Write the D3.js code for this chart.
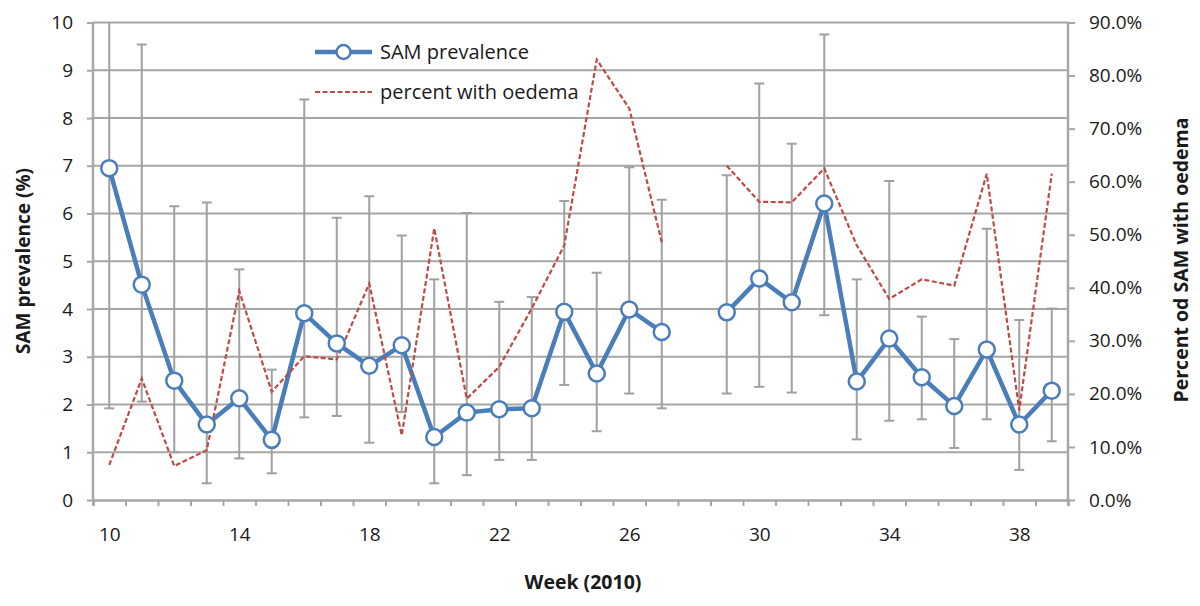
<!DOCTYPE html>
<html>
<head>
<meta charset="utf-8">
<script src="https://cdn.jsdelivr.net/npm/d3@7"></script>
<style>
  html, body { margin: 0; padding: 0; background: #fff; }
  svg { display: block; font-family: "Open Sans", "Noto Sans", sans-serif; }
</style>
</head>
<body>
<svg id="chart" width="1200" height="606"></svg>
<script>
// ---- data ----
const weeks = d3.range(10, 40);
const samPrevalence = [6.95, 4.51, 2.50, 1.58, 2.13, 1.26, 3.91, 3.28, 2.81, 3.24,
                       1.32, 1.83, 1.90, 1.92, 3.94, 2.65, 3.99, 3.52, null, 3.93,
                       4.64, 4.14, 6.21, 2.48, 3.38, 2.57, 1.97, 3.15, 1.58, 2.29];
const ciUpper = [10.5, 9.54, 6.15, 6.23, 4.83, 2.73, 8.39, 5.91, 6.36, 5.54,
                 4.62, 6.01, 4.15, 4.25, 6.26, 4.76, 6.97, 6.29, null, 6.80,
                 8.72, 7.46, 9.75, 4.62, 6.68, 3.84, 3.37, 5.68, 3.77, 4.01];
const ciLower = [1.92, 2.06, 1.00, 0.35, 0.87, 0.56, 1.73, 1.76, 1.20, 1.84,
                 0.35, 0.52, 0.84, 0.84, 2.41, 1.44, 2.23, 1.92, null, 2.23,
                 2.37, 2.25, 3.87, 1.27, 1.66, 1.69, 1.09, 1.69, 0.63, 1.23];
const pctOedema = [0.066, 0.229, 0.064, 0.094, 0.394, 0.204, 0.271, 0.265, 0.408, 0.122,
                   0.512, 0.191, 0.251, 0.361, 0.480, 0.830, 0.738, 0.486, null, 0.630,
                   0.562, 0.561, 0.625, 0.480, 0.379, 0.416, 0.404, 0.615, 0.169, 0.615];
const leftTicks = d3.range(0, 11);
const rightTicks = d3.range(0, 10).map(d => d / 10);
const xLabelWeeks = [10, 14, 18, 22, 26, 30, 34, 38];
const seriesNames = ["SAM prevalence", "percent with oedema"];
const leftTitle = "SAM prevalence  (%)";
const rightTitle = "Percent od SAM with oedema";
const xTitle = "Week (2010)";

// ---- layout ----
const svg = d3.select("#chart");
const L = 93, R = 1068, T = 22.5, B = 500;
const blue = "#4A7EBB", red = "#BE4B48", grid = "#A6A6A6", errC = "#A0A0A0";

const x = d3.scalePoint().domain(weeks).range([L, R]).padding(0.5);
const xb = d3.scaleLinear().domain([0, weeks.length]).range([L, R]);
const y = d3.scaleLinear().domain([0, 10]).range([B, T]);
const y2 = d3.scaleLinear().domain([0, 0.9]).range([B, T]);

svg.append("defs").append("clipPath").attr("id", "plotclip")
  .append("rect").attr("x", L - 20).attr("y", T).attr("width", R - L + 40).attr("height", B - T + 20);

// gridlines
svg.append("g").selectAll("line").data(leftTicks.filter(d => d > 0)).join("line")
  .attr("x1", L).attr("x2", R).attr("y1", d => y(d)).attr("y2", d => y(d))
  .attr("stroke", grid).attr("stroke-width", 2);

// axes
const gL = svg.append("g").attr("transform", `translate(${L},0)`)
  .call(d3.axisLeft(y).tickValues(leftTicks).tickSize(6).tickPadding(14).tickFormat(d3.format("d")));
const gR = svg.append("g").attr("transform", `translate(${R},0)`)
  .call(d3.axisRight(y2).tickValues(rightTicks).tickSize(7).tickPadding(14).tickFormat(d3.format(".1%")));
const gB = svg.append("g").attr("transform", `translate(0,${B})`)
  .call(d3.axisBottom(xb).tickValues(d3.range(0, weeks.length + 1)).tickSize(6).tickFormat(""));
const gBL = svg.append("g").attr("transform", `translate(0,${B})`)
  .call(d3.axisBottom(x).tickValues(xLabelWeeks).tickSize(0).tickPadding(28));

[gL, gR, gB, gBL].forEach(g => {
  g.select(".domain").attr("stroke", grid).attr("stroke-width", 2.5);
  g.selectAll(".tick line").attr("stroke", grid).attr("stroke-width", 2);
  g.selectAll("text").attr("fill", "#1a1a1a").attr("font-size", 19)
    .attr("font-family", "'Open Sans', sans-serif");
});
gBL.select(".domain").remove();
gL.select(".domain").attr("d", `M0,${B}V${T}`);
gR.select(".domain").attr("d", `M0,${B}V${T}`);

// error bars
const plot = svg.append("g").attr("clip-path", "url(#plotclip)");
const eb = weeks.map((w, i) => ({ w, lo: ciLower[i], hi: ciUpper[i] })).filter(d => d.lo != null);
const ebG = plot.append("g").attr("stroke", errC).attr("stroke-width", 2);
ebG.selectAll(".v").data(eb).join("line")
  .attr("x1", d => x(d.w)).attr("x2", d => x(d.w))
  .attr("y1", d => y(d.lo)).attr("y2", d => y(d.hi));
ebG.selectAll(".cl").data(eb).join("line")
  .attr("x1", d => x(d.w) - 5).attr("x2", d => x(d.w) + 5)
  .attr("y1", d => y(d.lo)).attr("y2", d => y(d.lo));
ebG.selectAll(".ch").data(eb.filter(d => d.hi <= 10)).join("line")
  .attr("x1", d => x(d.w) - 5).attr("x2", d => x(d.w) + 5)
  .attr("y1", d => y(d.hi)).attr("y2", d => y(d.hi));

// blue line
const samData = weeks.map((w, i) => ({ w, v: samPrevalence[i] }));
plot.append("path").datum(samData)
  .attr("fill", "none").attr("stroke", blue).attr("stroke-width", 4.5)
  .attr("stroke-linejoin", "round")
  .attr("d", d3.line().defined(d => d.v != null).x(d => x(d.w)).y(d => y(d.v)));

// red dashed line
const oedData = weeks.map((w, i) => ({ w, v: pctOedema[i] }));
plot.append("path").datum(oedData)
  .attr("fill", "none").attr("stroke", red).attr("stroke-width", 2.2)
  .attr("stroke-dasharray", "5,2.5")
  .attr("d", d3.line().defined(d => d.v != null).x(d => x(d.w)).y(d => y2(d.v)));

// markers
plot.append("g").selectAll("circle").data(samData.filter(d => d.v != null)).join("circle")
  .attr("cx", d => x(d.w)).attr("cy", d => y(d.v)).attr("r", 8)
  .attr("fill", "#fff").attr("stroke", blue).attr("stroke-width", 2.5);

// legend
const lg = svg.append("g");
lg.append("line").attr("x1", 315).attr("x2", 372).attr("y1", 52).attr("y2", 52)
  .attr("stroke", blue).attr("stroke-width", 4.5);
lg.append("circle").attr("cx", 343.5).attr("cy", 52).attr("r", 7)
  .attr("fill", "#fff").attr("stroke", blue).attr("stroke-width", 2.5);
lg.append("line").attr("x1", 315).attr("x2", 372).attr("y1", 92).attr("y2", 92)
  .attr("stroke", red).attr("stroke-width", 2.2).attr("stroke-dasharray", "5,2.5");
lg.selectAll("text").data(seriesNames).join("text")
  .attr("x", 380).attr("y", (d, i) => 52 + i * 40).attr("dy", "0.35em")
  .attr("font-size", 20).attr("fill", "#1a1a1a").text(d => d);

// titles
svg.append("text").attr("transform", `translate(30,261) rotate(-90)`)
  .attr("text-anchor", "middle").attr("font-weight", "bold").attr("font-size", 19)
  .attr("fill", "#1a1a1a").text(leftTitle);
svg.append("text").attr("transform", `translate(1188,260) rotate(-90)`)
  .attr("text-anchor", "middle").attr("font-weight", "bold").attr("font-size", 19.5)
  .attr("fill", "#1a1a1a").text(rightTitle);
svg.append("text").attr("x", 583).attr("y", 589)
  .attr("text-anchor", "middle").attr("font-weight", "bold").attr("font-size", 19.5)
  .attr("fill", "#1a1a1a").text(xTitle);
</script>
</body>
</html>
